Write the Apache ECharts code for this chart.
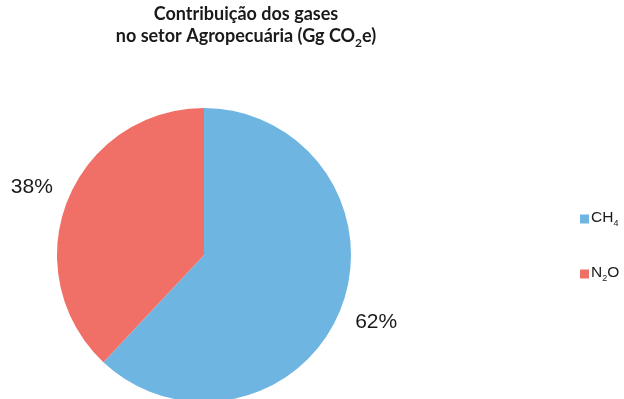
<!DOCTYPE html>
<html>
<head>
<meta charset="utf-8">
<script src="https://cdn.jsdelivr.net/npm/echarts@6/dist/echarts.min.js"></script>
<style>
html,body{margin:0;padding:0;background:#fff;}
#chart{width:624px;height:399px;}
</style>
</head>
<body>
<div id="chart"></div>
<script>
const categories = ['CH4', 'N2O'];
const values = [62, 38];
const colors = ['#6fb5e1', '#f07067'];
const legendRich = {
  'CH4': '{m|CH}{s|4}',
  'N2O': '{m|N}{s|2}{m|O}'
};

const chart = echarts.init(document.getElementById('chart'));
chart.setOption({
  animation: false,
  color: colors,
  title: {
    text: '{b|Contribuição dos gases}\n{b|no setor Agropecuária (Gg CO}{s|2}{b|e)}',
    left: 246,
    top: 5,
    textAlign: 'center',
    padding: 0,
    textStyle: {
      rich: {
        b: { fontFamily: 'Lato', fontWeight: 'bold', fontSize: 18, color: '#1a1a1a', lineHeight: 22, verticalAlign: 'top' },
        s: { fontFamily: 'Lato', fontWeight: 'bold', fontSize: 12, color: '#1a1a1a', lineHeight: 16, verticalAlign: 'bottom' }
      }
    }
  },
  legend: {
    orient: 'vertical',
    left: 580,
    top: 210,
    padding: 0,
    itemWidth: 9,
    itemHeight: 9,
    itemGap: 37,
    icon: 'rect',
    data: categories,
    formatter: function (name) { return legendRich[name]; },
    textStyle: {
      padding: [0, 0, 0, -3],
      rich: {
        m: { fontFamily: 'Liberation Sans', fontSize: 15.5, color: '#1a1a1a', lineHeight: 18, verticalAlign: 'top' },
        s: { fontFamily: 'Liberation Sans', fontSize: 9, color: '#1a1a1a', lineHeight: 9, verticalAlign: 'bottom' }
      }
    }
  },
  series: [{
    type: 'pie',
    center: [204, 255],
    radius: 147,
    startAngle: 90,
    clockwise: true,
    avoidLabelOverlap: false,
    data: categories.map((c, i) => ({ name: c, value: values[i] })),
    label: {
      show: true,
      position: 'outside',
      formatter: '{d}%',
      fontFamily: 'Liberation Sans',
      fontSize: 21,
      color: '#1a1a1a',
      padding: [4, 0, 0, 0]
    },
    labelLine: { show: false, length: 36, length2: -24 },
    emphasis: { disabled: true }
  }]
});
</script>
</body>
</html>
